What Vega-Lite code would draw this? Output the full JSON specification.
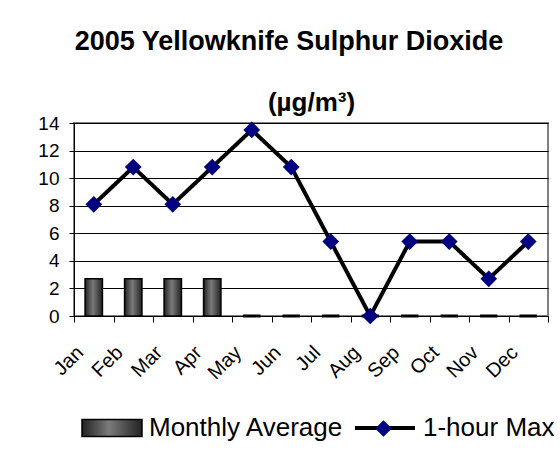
{
  "$schema": "https://vega.github.io/schema/vega-lite/v6.json",
  "width": 474,
  "height": 193,
  "autosize": {"type": "none"},
  "padding": {"left": 74, "top": 123, "right": 12, "bottom": 133},
  "background": "white",
  "config": {
    "font": "Liberation Sans",
    "view": {"stroke": "#808080", "strokeWidth": 2},
    "axisY": {
      "title": null,
      "values": [0, 2, 4, 6, 8, 10, 12, 14],
      "labelFontSize": 19,
      "labelColor": "black",
      "labelPadding": 10,
      "labelOverlap": false,
      "tickSize": 5,
      "tickColor": "black",
      "domainColor": "black",
      "grid": true,
      "gridColor": "black",
      "gridWidth": 1
    }
  },
  "title": {
    "text": "2005 Yellowknife Sulphur Dioxide",
    "fontSize": 27,
    "fontWeight": "bold",
    "color": "black",
    "anchor": "middle",
    "frame": "group",
    "dx": -22,
    "offset": 12,
    "baseline": "alphabetic"
  },
  "data": {
    "values": [
      {"month": "Jan", "avg": 2.7, "max": 8.1},
      {"month": "Feb", "avg": 2.7, "max": 10.8},
      {"month": "Mar", "avg": 2.7, "max": 8.1},
      {"month": "Apr", "avg": 2.7, "max": 10.8},
      {"month": "May", "avg": 0, "max": 13.5},
      {"month": "Jun", "avg": 0, "max": 10.8},
      {"month": "Jul", "avg": 0, "max": 5.4},
      {"month": "Aug", "avg": 0, "max": 0},
      {"month": "Sep", "avg": 0, "max": 5.4},
      {"month": "Oct", "avg": 0, "max": 5.4},
      {"month": "Nov", "avg": 0, "max": 2.7},
      {"month": "Dec", "avg": 0, "max": 5.4}
    ]
  },
  "encoding": {
    "x": {
      "field": "month",
      "type": "nominal",
      "sort": null,
      "scale": {"paddingInner": 0, "paddingOuter": 0},
      "axis": {
        "title": "(µg/m³)",
        "titleFontSize": 26,
        "titleFontWeight": "bold",
        "titleColor": "black",
        "titleBaseline": "alphabetic",
        "titleY": -206,
        "labelAngle": -45,
        "labelFontSize": 20,
        "labelColor": "black",
        "labelPadding": 20,
        "labelOffset": -21,
        "tickBand": "extent",
        "tickColor": "black",
        "tickSize": 6,
        "domainColor": "black",
        "domainWidth": 1,
        "grid": false
      }
    }
  },
  "layer": [
    {
      "mark": {
        "type": "bar",
        "width": {"band": 0.44},
        "fill": {
          "gradient": "linear",
          "x1": 0, "x2": 1, "y1": 0, "y2": 0,
          "stops": [
            {"offset": 0, "color": "#222222"},
            {"offset": 0.45, "color": "#7a7a7a"},
            {"offset": 1, "color": "#222222"}
          ]
        }
      },
      "encoding": {
        "y": {
          "field": "avg",
          "type": "quantitative",
          "scale": {"domain": [0, 14]}
        },
        "strokeWidth": {
          "condition": {"test": "datum.avg === 0", "value": 3},
          "value": 1.5
        },
        "stroke": {
          "datum": "Monthly Average",
          "scale": {"range": ["black"]},
          "legend": {
            "orient": "none",
            "legendX": 7,
            "legendY": 274,
            "title": null,
            "padding": 0,
            "labelFontSize": 26,
            "labelColor": "black",
            "labelLimit": 400,
            "labelOffset": 6,
            "symbolSize": 3600,
            "symbolStrokeWidth": 1.5,
            "symbolStrokeColor": "black",
            "symbolType": "M-1,-0.28H1V0.28H-1Z",
            "encode": {
              "symbols": {
                "update": {
                  "fill": {"value": {
                    "gradient": "linear",
                    "x1": 0, "x2": 1, "y1": 0, "y2": 0,
                    "stops": [
                      {"offset": 0, "color": "#222222"},
                      {"offset": 0.45, "color": "#7a7a7a"},
                      {"offset": 1, "color": "#222222"}
                    ]
                  }},
                  "opacity": {"value": 1}
                }
              }
            }
          }
        }
      }
    },
    {
      "mark": {"type": "line", "strokeWidth": 4, "color": "black"},
      "encoding": {
        "y": {"field": "max", "type": "quantitative"},
        "strokeDash": {
          "datum": "1-hour Max",
          "scale": {"range": [[1, 0]]},
          "legend": {
            "orient": "none",
            "legendX": 279,
            "legendY": 273,
            "title": null,
            "padding": 0,
            "labelFontSize": 26,
            "labelColor": "black",
            "labelLimit": 400,
            "labelOffset": 6,
            "symbolSize": 3600,
            "symbolType": "M-1,0H1",
            "symbolStrokeColor": "black",
            "symbolStrokeWidth": 4,
            "symbolDash": [1, 0],
            "symbolOpacity": 1
          }
        }
      }
    },
    {
      "mark": {"type": "point", "filled": true, "color": "#000080", "size": 280, "opacity": 1, "strokeWidth": 0},
      "encoding": {
        "y": {"field": "max", "type": "quantitative"},
        "shape": {
          "datum": "1-hour Max marker",
          "scale": {"range": ["diamond"]},
          "legend": {
            "orient": "none",
            "legendX": 301,
            "legendY": 297,
            "title": null,
            "padding": 0,
            "symbolSize": 280,
            "symbolFillColor": "#000080",
            "symbolStrokeColor": "#000080",
            "symbolStrokeWidth": 0,
            "symbolOpacity": 1,
            "labelExpr": "''",
            "labelFontSize": 1,
            "zindex": 2
          }
        }
      }
    }
  ]
}
